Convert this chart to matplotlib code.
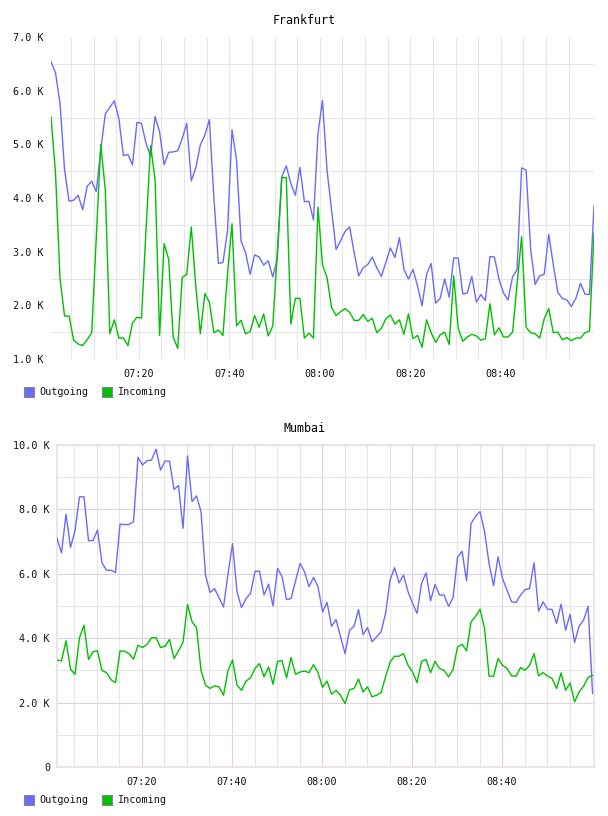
import matplotlib
matplotlib.use('Agg')
import matplotlib.pyplot as plt
import matplotlib.dates as mdates
from matplotlib.ticker import FuncFormatter
from matplotlib.patches import Rectangle
import pandas as pd

# traffic in K, one sample per minute
fra_out = [6.54, 6.33, 5.76, 4.52, 3.94, 3.96, 4.05, 3.78, 4.22, 4.31,
           4.12, 4.90, 5.57, 5.69, 5.81, 5.48, 4.79, 4.81, 4.62, 5.41,
           5.39, 5.02, 4.77, 5.52, 5.23, 4.62, 4.85, 4.86, 4.88, 5.11,
           5.39, 4.32, 4.56, 4.99, 5.17, 5.46, 4.00, 2.78, 2.80, 3.38,
           5.27, 4.71, 3.20, 2.98, 2.58, 2.94, 2.90, 2.75, 2.83, 2.53,
           2.86, 4.40, 4.60, 4.27, 4.05, 4.57, 3.93, 3.94, 3.59, 5.20,
           5.82, 4.52, 3.78, 3.04, 3.20, 3.38, 3.46, 2.98, 2.55, 2.70,
           2.76, 2.90, 2.70, 2.54, 2.80, 3.07, 2.89, 3.26, 2.67, 2.49,
           2.67, 2.36, 1.99, 2.58, 2.78, 2.04, 2.13, 2.49, 2.15, 2.88,
           2.88, 2.21, 2.23, 2.54, 2.06, 2.20, 2.09, 2.91, 2.90, 2.49,
           2.23, 2.10, 2.53, 2.67, 4.56, 4.52, 3.04, 2.39, 2.55, 2.58,
           3.32, 2.76, 2.24, 2.13, 2.10, 1.98, 2.13, 2.41, 2.21, 2.20, 3.85]
fra_in = [5.52, 4.46, 2.49, 1.80, 1.80, 1.35, 1.28, 1.25, 1.36, 1.49,
          3.25, 5.00, 4.15, 1.47, 1.73, 1.39, 1.39, 1.25, 1.67, 1.78,
          1.76, 3.41, 4.97, 4.35, 1.44, 3.15, 2.86, 1.41, 1.20, 2.52,
          2.58, 3.46, 2.36, 1.47, 2.22, 2.06, 1.49, 1.54, 1.44, 2.58,
          3.52, 1.62, 1.72, 1.47, 1.51, 1.81, 1.59, 1.84, 1.43, 1.61,
          2.98, 4.38, 4.38, 1.65, 2.13, 2.13, 1.39, 1.48, 1.39, 3.83,
          2.75, 2.52, 1.96, 1.81, 1.88, 1.94, 1.87, 1.72, 1.72, 1.83,
          1.70, 1.76, 1.49, 1.57, 1.75, 1.82, 1.65, 1.73, 1.46, 1.84,
          1.38, 1.44, 1.22, 1.73, 1.49, 1.31, 1.45, 1.50, 1.27, 2.55,
          1.57, 1.33, 1.41, 1.46, 1.43, 1.35, 1.38, 2.03, 1.45, 1.58,
          1.41, 1.41, 1.50, 2.39, 3.28, 1.59, 1.49, 1.47, 1.39, 1.75,
          1.94, 1.49, 1.50, 1.36, 1.40, 1.34, 1.39, 1.39, 1.49, 1.52, 3.34]

mum_out = [7.10, 6.65, 7.85, 6.82, 7.34, 8.39, 8.39, 7.03, 7.03, 7.36,
           6.34, 6.11, 6.11, 6.04, 7.54, 7.53, 7.53, 7.62, 9.62, 9.38,
           9.51, 9.53, 9.87, 9.22, 9.50, 9.50, 8.62, 8.74, 7.41, 9.66,
           8.24, 8.42, 7.93, 5.96, 5.42, 5.54, 5.26, 4.97, 6.00, 6.94,
           5.44, 4.95, 5.23, 5.39, 6.08, 6.08, 5.34, 5.68, 5.00, 6.17,
           5.91, 5.20, 5.23, 5.78, 6.32, 6.06, 5.60, 5.89, 5.60, 4.82,
           5.11, 4.37, 4.58, 4.04, 3.52, 4.25, 4.37, 4.89, 4.11, 4.33,
           3.89, 4.04, 4.20, 4.77, 5.80, 6.19, 5.72, 5.96, 5.44, 5.08,
           4.77, 5.70, 6.03, 5.16, 5.67, 5.34, 5.34, 4.99, 5.26, 6.51,
           6.70, 5.78, 7.56, 7.79, 7.93, 7.31, 6.32, 5.63, 6.53, 5.85,
           5.49, 5.13, 5.11, 5.34, 5.51, 5.54, 6.34, 4.84, 5.13, 4.90,
           4.89, 4.46, 5.06, 4.25, 4.74, 3.87, 4.37, 4.56, 4.99, 2.28]
mum_in = [3.32, 3.30, 3.92, 3.04, 2.88, 4.02, 4.40, 3.34, 3.58, 3.61,
          3.00, 2.93, 2.71, 2.62, 3.60, 3.60, 3.52, 3.35, 3.78, 3.71,
          3.81, 4.01, 4.02, 3.71, 3.75, 3.96, 3.37, 3.61, 3.87, 5.05,
          4.51, 4.33, 3.00, 2.54, 2.44, 2.52, 2.49, 2.23, 3.00, 3.32,
          2.54, 2.38, 2.67, 2.77, 3.06, 3.21, 2.80, 3.11, 2.57, 3.28,
          3.30, 2.77, 3.40, 2.88, 2.95, 2.98, 2.93, 3.18, 2.93, 2.47,
          2.67, 2.26, 2.38, 2.23, 1.97, 2.40, 2.44, 2.73, 2.33, 2.49,
          2.18, 2.23, 2.31, 2.80, 3.26, 3.44, 3.44, 3.52, 3.16, 2.95,
          2.62, 3.28, 3.34, 2.93, 3.28, 3.06, 3.00, 2.80, 3.03, 3.73,
          3.81, 3.61, 4.51, 4.68, 4.90, 4.30, 2.82, 2.82, 3.37, 3.16,
          3.06, 2.83, 2.82, 3.09, 3.00, 3.16, 3.52, 2.83, 2.93, 2.82,
          2.75, 2.44, 2.92, 2.38, 2.61, 2.02, 2.33, 2.51, 2.78, 2.85]

day = '2020-01-01 '
fra_time = pd.date_range(day + '07:00:36', periods=len(fra_out), freq='min')
mum_time = pd.date_range(day + '07:01:07', periods=len(mum_out), freq='min')
label_times = pd.to_datetime([day + t for t in ['07:20', '07:40', '08:00', '08:20', '08:40']])
grid_times = pd.date_range(day + '07:05', day + '08:55', freq='5min')

OUT_C = '#6a6aff'
IN_C = '#00c000'
GRAY = '#e6e6e6'
PINK = '#e4d0e4'
FONT = 'DejaVu Sans Mono'

plt.rcParams['font.family'] = FONT


def kfmt(v, pos):
    return '0' if v == 0 else '%.1f K' % v


def base_axes(ax, t, out, inc, xmax):
    ax.plot(t, out, color=OUT_C, lw=1.0, zorder=3)
    ax.plot(t, inc, color=IN_C, lw=1.0, zorder=3)
    ax.set_xlim(t[0], xmax)
    ax.set_xticks(label_times)
    ax.set_xticks(grid_times, minor=True)
    ax.xaxis.set_major_formatter(mdates.DateFormatter('%H:%M'))
    ax.yaxis.set_major_formatter(FuncFormatter(kfmt))
    ax.tick_params(which='both', length=0, labelsize=7.3, colors='#111111')
    ax.tick_params(axis='y', pad=5)
    ax.tick_params(axis='x', pad=7)
    ax.set_axisbelow(True)


def legend(fig, y):
    for x0, lab, c in [(24, 'Outgoing', OUT_C), (102, 'Incoming', IN_C)]:
        fig.patches.append(Rectangle((x0 / 608, (816 - y - 5) / 816), 10 / 608, 10 / 816,
                                     transform=fig.transFigure, facecolor=c,
                                     edgecolor='#888888', lw=0.8))
        fig.text((x0 + 15) / 608, (816 - y) / 816, lab, fontsize=7.3,
                 va='center', ha='left', color='#111111')


fig = plt.figure(figsize=(6.08, 8.16), dpi=100)

# Frankfurt
ax1 = fig.add_axes([51 / 608, 1 - 359 / 816, 543 / 608, 322 / 816])
base_axes(ax1, fra_time, fra_out, fra_in, fra_time[-1])
ax1.set_ylim(1, 7)
ax1.set_yticks([1, 2, 3, 4, 5, 6, 7])
ax1.set_yticks([1.5, 2.5, 3.5, 4.5, 5.5, 6.5], minor=True)
ax1.grid(which='minor', color=GRAY, lw=0.8)
ax1.grid(which='major', axis='x', color=GRAY, lw=0.8)
for s in ax1.spines.values():
    s.set_visible(False)
fig.text(0.5, 1 - 20 / 816, 'Frankfurt', ha='center', va='center', fontsize=8.4)
legend(fig, 392)

# Mumbai
ax2 = fig.add_axes([57 / 608, 1 - 767 / 816, 537 / 608, 322 / 816])
base_axes(ax2, mum_time, mum_out, mum_in, pd.Timestamp(day + '09:00:26'))
ax2.set_ylim(0, 10)
ax2.set_yticks([0, 2, 4, 6, 8, 10])
ax2.set_yticks([1, 3, 5, 7, 9], minor=True)
ax2.grid(which='minor', color=GRAY, lw=0.8)
ax2.grid(which='major', color=PINK, lw=0.8)
for s in ax2.spines.values():
    s.set_color('#eddcec')
    s.set_linewidth(1.2)
fig.text(0.5, 1 - 428 / 816, 'Mumbai', ha='center', va='center', fontsize=8.4)
legend(fig, 800)

fig.savefig('out.png', dpi=100, facecolor='white')
